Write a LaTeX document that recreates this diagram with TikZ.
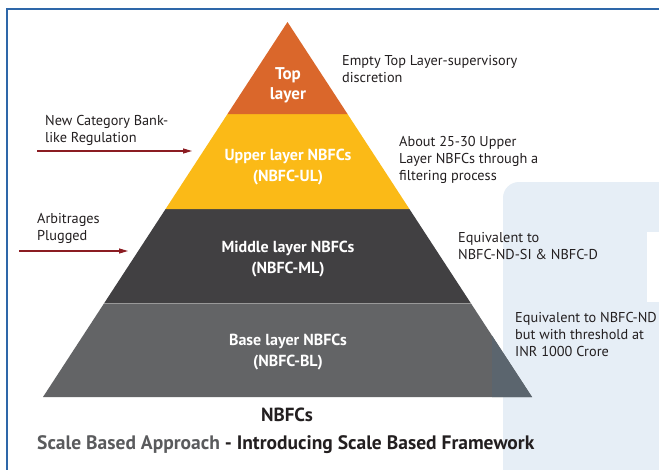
\documentclass[tikz,border=0pt]{standalone}
\usepackage{fontspec}
\setmainfont{PT Sans}
\usetikzlibrary{arrows.meta}
\definecolor{topcol}{HTML}{DA672B}
\definecolor{uppercol}{HTML}{FBBA17}
\definecolor{midcol}{HTML}{414042}
\definecolor{basecol}{HTML}{636466}
\definecolor{tipcol}{HTML}{5B656E}
\definecolor{wmblue}{HTML}{E6EEF6}
\definecolor{bordercol}{HTML}{2E67A9}
\definecolor{arrowcol}{HTML}{8B1C22}
\definecolor{txt}{HTML}{231F20}
\definecolor{graytxt}{HTML}{5A5B5D}
\tikzset{
  layerlabel/.style={text=white, font=\bfseries\fontsize{16}{21}\selectfont, align=center, inner sep=0pt},
  note/.style={text=txt, font=\fontsize{14.3}{17}\selectfont, align=left, anchor=base west, inner sep=0pt},
  pointer/.style={draw=arrowcol, line width=1.1pt, -{Triangle[length=9pt,width=5pt]}},
}
\begin{document}
\begin{tikzpicture}[x=1pt,y=-1pt]
\useasboundingbox (0,0) rectangle (659,469);
\fill[white] (0,0) rectangle (659,469);
% frame
\draw[bordercol, line width=1.3pt] (7,470) -- (7,9) -- (660,9);
% watermark
\fill[wmblue, rounded corners=16pt] (503,182) rectangle (720,520);
\fill[white] (647,232) rectangle (665,302);
% pyramid corners
\coordinate (apex) at (287.5,22);
\coordinate (tl) at (227.5,114);  \coordinate (tr) at (347.5,114);
\coordinate (ul) at (165.6,209);  \coordinate (ur) at (409.4,209);
\coordinate (ml) at (104.3,303);  \coordinate (mr) at (470.7,303);
\coordinate (bl) at (43,397);     \coordinate (br) at (532,397);
\fill[basecol] (ml) -- (mr) -- (br) -- (bl) -- cycle;
\fill[tipcol] (492,335.7) -- (br) -- (492,397) -- cycle;
\fill[midcol] (ul) -- (ur) -- (mr) -- (ml) -- cycle;
\fill[uppercol] (tl) -- (tr) -- (ur) -- (ul) -- cycle;
\fill[topcol] (apex) -- (tr) -- (tl) -- cycle;
\draw[gray!80, line width=0.6pt] (ml) -- (mr);
% layer labels
\node[layerlabel, font=\bfseries\fontsize{17}{20}\selectfont] (top) at (288,85) {Top\\layer};
\node[layerlabel] (upper) at (288,167) {Upper layer NBFCs\\(NBFC-UL)};
\node[layerlabel] (middle) at (288,259) {Middle layer NBFCs\\(NBFC-ML)};
\node[layerlabel] (base) at (288,352.5) {Base layer NBFCs\\(NBFC-BL)};
% right notes (anchored at the baseline of the last line)
\node[note] (n1) at (342,82.5) {Empty Top Layer-supervisory\\discretion};
\node[note] (n2) at (399,180.5) {About 25-30 Upper\\Layer NBFCs through a\\filtering process};
\node[note] (n3) at (458,259.5) {Equivalent to\\NBFC-ND-SI \& NBFC-D};
\node[note] (n4) at (515,356.5) {Equivalent to NBFC-ND\\but with threshold at\\INR 1000 Crore};
% left notes and arrows
\node[note] (l1) at (45,142.5) {New Category Bank-\\like Regulation};
\node[note] (l2) at (37,240.5) {Arbitrages\\Plugged};
\coordinate (a1s) at (37,151);  \coordinate (a1e) at (192,151);
\coordinate (a2s) at (19,251);  \coordinate (a2e) at (128,251);
\draw[pointer] (a1s) -- (a1e);
\draw[pointer] (a2s) -- (a2e);
% bottom titles
\node[text=txt, font=\bfseries\fontsize{19}{22}\selectfont, inner sep=0pt] (nbfcs) at (287,415) {NBFCs};
\node[anchor=west, inner sep=0pt, font=\bfseries\fontsize{19.5}{22}\selectfont] (title) at (37,445)
  {\textcolor{graytxt}{Scale Based Approach} \textcolor{txt}{- Introducing Scale Based Framework}};
\end{tikzpicture}
\end{document}
